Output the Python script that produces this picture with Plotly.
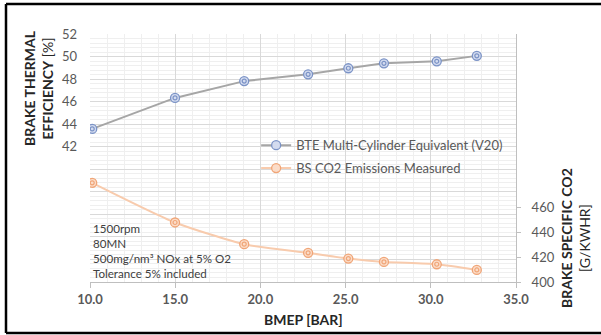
import plotly.graph_objects as go

bmep = [10.13, 14.99, 19.05, 22.8, 25.16, 27.25, 30.35, 32.7]
bte = [43.58, 46.33, 47.82, 48.42, 48.96, 49.4, 49.58, 50.06]
bsco2 = [480.0, 448.0, 430.5, 423.5, 418.9, 416.2, 414.3, 409.7]

left_ticks = list(range(30, 53, 2))
left_text = [str(v) if v >= 42 else "" for v in left_ticks]
right_ticks = [400, 420, 440, 460]
x_ticks = [10, 15, 20, 25, 30, 35]
x_text = ["10.0", "15.0", "20.0", "25.0", "30.0", "35.0"]

FONT = "Lato"
GREY = "#595959"
BLUE = "#7b93c6"
BLUE_FILL = "#d3dbef"
ORANGE = "#f0a577"
ORANGE_FILL = "#fbdcc8"

fig = go.Figure()
fig.add_trace(go.Scatter(
    x=bmep, y=bte, name="BTE Multi-Cylinder Equivalent (V20)", legendgroup="a",
    mode="lines+markers",
    line=dict(color="#a6a6a6", width=2),
    marker=dict(symbol="circle", size=9, color=BLUE_FILL, line=dict(color=BLUE, width=1.3)),
))
fig.add_trace(go.Scatter(
    x=bmep, y=bte, mode="markers", showlegend=False, hoverinfo="skip",
    marker=dict(symbol="circle-open", size=4, color=BLUE, line=dict(width=1.2)),
))
fig.add_trace(go.Scatter(
    x=bmep, y=bsco2, name="BS CO2 Emissions Measured", yaxis="y2", legendgroup="b",
    mode="lines+markers",
    line=dict(color="#f8cbad", width=2, shape="spline", smoothing=0.6),
    marker=dict(symbol="circle", size=9, color=ORANGE_FILL, line=dict(color=ORANGE, width=1.3)),
))
fig.add_trace(go.Scatter(
    x=bmep, y=bsco2, yaxis="y2", mode="markers", showlegend=False, hoverinfo="skip",
    marker=dict(symbol="circle-open", size=4, color=ORANGE, line=dict(width=1.2)),
))

def px_x(p):
    return (p - 90) / 426

def px_y(p):
    return (282 - p) / 248

border = dict(color="black", width=2.5)

fig.update_layout(
    width=601, height=335,
    margin=dict(l=90, r=85, t=34, b=53),
    paper_bgcolor="white", plot_bgcolor="white",
    font=dict(family=FONT, color=GREY, size=13),
    showlegend=True,
    legend=dict(x=0.39, y=0.612, xanchor="left", yanchor="top",
                bgcolor="rgba(0,0,0,0)", font=dict(size=13, color=GREY),
                itemwidth=30, traceorder="grouped", tracegroupgap=3),
    xaxis=dict(range=[10, 35], tickvals=x_ticks, ticktext=x_text,
               tickfont=dict(size=13, color=GREY, family=FONT, weight="bold"),
               showgrid=True, gridcolor="#d9d9d9", gridwidth=1,
               minor=dict(dtick=1, tick0=10, showgrid=True, gridcolor="#efefef", ticklen=0),
               showline=True, linecolor="#bfbfbf", linewidth=1,
               ticks="outside", ticklen=5, tickcolor="#bfbfbf",
               zeroline=False, mirror=False),
    yaxis=dict(range=[30, 52], tickmode="array", tickvals=left_ticks, ticktext=left_text,
               tickfont=dict(size=13, color=GREY),
               showgrid=True, gridcolor="#d9d9d9",
               minor=dict(tickmode="linear", dtick=0.4, tick0=30, showgrid=True, gridcolor="#efefef", ticklen=0),
               showline=False, zeroline=False, ticks="", ticklabelstandoff=12),
    yaxis2=dict(range=[400, 600], overlaying="y", side="right",
                tickmode="array", tickvals=right_ticks,
                tickfont=dict(size=13, color=GREY),
                showgrid=False, zeroline=False,
                showline=True, linecolor="#bfbfbf", linewidth=1,
                ticks="outside", ticklen=4, tickcolor="#bfbfbf", ticklabelstandoff=8),
    shapes=[
        dict(type="line", xref="paper", yref="paper", x0=px_x(6), x1=px_x(601),
             y0=px_y(4), y1=px_y(4), line=border, layer="below"),
        dict(type="line", xref="paper", yref="paper", x0=px_x(6), x1=px_x(601),
             y0=px_y(333), y1=px_y(333), line=border, layer="below"),
        dict(type="line", xref="paper", yref="paper", x0=px_x(6), x1=px_x(6),
             y0=px_y(4), y1=px_y(333), line=border, layer="below"),
    ],
    annotations=[
        dict(text="<b>BRAKE THERMAL</b><br><b>EFFICIENCY</b> [%]", textangle=-90,
             xref="paper", yref="paper", x=px_x(38), y=px_y(88),
             xanchor="center", yanchor="middle",
             showarrow=False, font=dict(size=14, color="#262626"), align="center"),
        dict(text="<b>BRAKE SPECIFIC CO2</b><br>[G/KWHR]", textangle=-90,
             xref="paper", yref="paper", x=px_x(576), y=px_y(238),
             xanchor="center", yanchor="middle",
             showarrow=False, font=dict(size=14, color="#262626"), align="center"),
        dict(text="<b>BMEP [BAR]</b>", xref="paper", yref="paper",
             x=px_x(303), y=px_y(319), showarrow=False,
             xanchor="center", yanchor="middle",
             font=dict(size=14, color="#262626")),
        dict(text="1500rpm<br>80MN<br>500mg/nm³ NOx at 5% O2<br>Tolerance 5% included",
             xref="paper", yref="paper", x=px_x(91), y=px_y(220),
             xanchor="left", yanchor="top", align="left", showarrow=False,
             font=dict(size=11.6, color="#404040")),
    ],
)

fig.write_html(
    "out.html", config={"displayModeBar": False},
    post_script=("document.body.style.margin='0';"
                 "document.body.style.overflow='hidden';"
                 "document.documentElement.style.overflow='hidden';"),
)
